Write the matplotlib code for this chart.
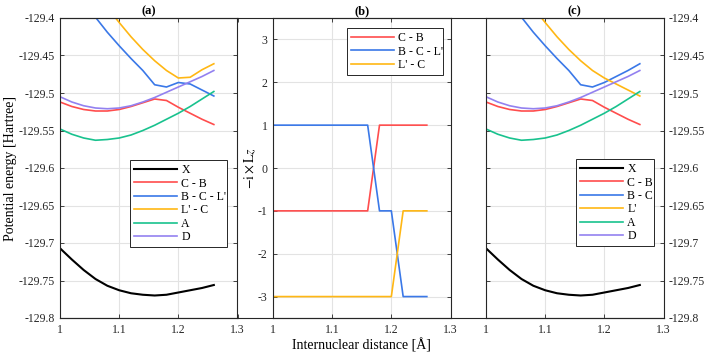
import matplotlib
matplotlib.use("Agg")
import matplotlib.pyplot as plt
from matplotlib.lines import Line2D
import numpy as np

plt.rcParams['font.family'] = ['Liberation Serif', 'DejaVu Serif']
plt.rcParams['mathtext.fontset'] = 'stix'
plt.rcParams['axes.unicode_minus'] = False

# ---------------- data ----------------
r = [1.00, 1.02, 1.04, 1.06, 1.08, 1.10, 1.12, 1.14, 1.16, 1.18, 1.20, 1.22, 1.24, 1.26]

E_X = [-129.707, -129.722, -129.736, -129.748, -129.757, -129.763, -129.767,
       -129.769, -129.770, -129.769, -129.766, -129.763, -129.760, -129.756]
E_CB = [-129.512, -129.518, -129.522, -129.524, -129.524, -129.522, -129.518,
        -129.513, -129.508, -129.510, -129.519, -129.527, -129.535, -129.542]
E_BCL = [-129.330, -129.355, -129.378, -129.399, -129.419, -129.437, -129.454,
         -129.470, -129.489, -129.492, -129.486, -129.488, -129.496, -129.504]
E_LC = [-129.286, -129.314, -129.340, -129.364, -129.386, -129.406, -129.425,
        -129.442, -129.457, -129.470, -129.480, -129.479, -129.469, -129.461]
E_A = [-129.548, -129.555, -129.560, -129.563, -129.562, -129.560, -129.556,
       -129.550, -129.543, -129.535, -129.527, -129.518, -129.508, -129.498]
E_D = [-129.505, -129.512, -129.517, -129.520, -129.521, -129.520, -129.517,
       -129.512, -129.506, -129.499, -129.492, -129.485, -129.478, -129.470]

# panel (c): diabatic-like reordering
E_BC = [-129.330, -129.355, -129.378, -129.399, -129.419, -129.437, -129.454,
        -129.470, -129.489, -129.492, -129.486, -129.478, -129.470, -129.461]
E_L = [-129.286, -129.314, -129.340, -129.364, -129.386, -129.406, -129.425,
       -129.442, -129.457, -129.470, -129.480, -129.488, -129.496, -129.504]

Lz_CB = [-1, -1, -1, -1, -1, -1, -1, -1, -1, 1, 1, 1, 1, 1]
Lz_BCL = [1, 1, 1, 1, 1, 1, 1, 1, 1, -1, -1, -3, -3, -3]
Lz_LC = [-3, -3, -3, -3, -3, -3, -3, -3, -3, -3, -3, -1, -1, -1]

labels_a = ['X', 'C - B', 'B - C - L\'', 'L\' - C', 'A', 'D']
labels_b = ['C - B', 'B - C - L\'', 'L\' - C']
labels_c = ['X', 'C - B', 'B - C', 'L\'', 'A', 'D']

x_ticks = [1, 1.1, 1.2, 1.3]
x_ticklabels = ['1', '1.1', '1.2', '1.3']
e_ticks = [-129.8, -129.75, -129.7, -129.65, -129.6, -129.55, -129.5, -129.45, -129.4]
e_ticklabels = ['-129.8', '-129.75', '-129.7', '-129.65', '-129.6', '-129.55',
                '-129.5', '-129.45', '-129.4']
lz_ticks = [-3, -2, -1, 0, 1, 2, 3]
lz_ticklabels = ['-3', '-2', '-1', '0', '1', '2', '3']

# ---------------- style ----------------
C_X = '#000000'
C_R = '#FF4D4D'
C_B = '#3A78E8'
C_Y = '#FFB714'
C_G = '#19C28E'
C_P = '#9381F0'
SP = '#262626'

fig = plt.figure(figsize=(7.09, 3.54), dpi=100)
W, H = 709, 354
def ax_at(x0, x1, y0=18, y1=318):
    return fig.add_axes([x0 / W, 1 - y1 / H, (x1 - x0) / W, (y1 - y0) / H])

axa = ax_at(60, 237.5)
axb = ax_at(273, 450.5)
axc = ax_at(486, 663.5)

def style(ax):
    ax.set_xlim(1, 1.3)
    ax.set_xticks(x_ticks)
    ax.set_xticklabels(x_ticklabels)
    ax.grid(True, color='#E3E3E3', linewidth=0.8)
    ax.set_axisbelow(True)
    for s in ax.spines.values():
        s.set_color(SP)
        s.set_linewidth(0.8)
    ax.tick_params(direction='in', length=3, width=0.6, colors=SP,
                   labelsize=8.5, labelcolor='#262626', top=True, right=True,
                   pad=4)

lw = 1.2
for ax, ys, labs, cols in [
        (axa, [E_X, E_CB, E_BCL, E_LC, E_A, E_D], labels_a, [C_X, C_R, C_B, C_Y, C_G, C_P]),
        (axc, [E_X, E_CB, E_BC, E_L, E_A, E_D], labels_c, [C_X, C_R, C_B, C_Y, C_G, C_P])]:
    for y, lab, c in zip(ys, labs, cols):
        ax.plot(r, y, color=c, lw=1.5 if c == C_X else lw, label=lab)
    style(ax)
    ax.set_ylim(-129.8, -129.4)
    ax.set_yticks(e_ticks)
    ax.set_yticklabels(e_ticklabels)

for y, lab, c in zip([Lz_CB, Lz_BCL, Lz_LC], labels_b, [C_R, C_B, C_Y]):
    axb.plot(r, y, color=c, lw=lw, label=lab)
style(axb)
axb.set_ylim(-3.5, 3.5)
axb.set_yticks(lz_ticks)
axb.set_yticklabels(lz_ticklabels)

axc.tick_params(labelleft=False, labelright=True)

axa.set_ylabel('Potential energy [Hartree]', fontsize=10, labelpad=1)
axb.set_ylabel(r'$-\mathrm{i}\times\mathrm{L}z$', fontsize=10, labelpad=0)
axb.set_xlabel('Internuclear distance [Å]', fontsize=10, labelpad=2)

for ax, t in [(axa, '(a)'), (axb, '(b)'), (axc, '(c)')]:
    ax.set_title(t, fontsize=9, fontweight='bold', pad=3)

def leg(ax, box):
    x0, y0, x1, y1 = box
    bb = ax.get_position()
    fx0 = x0 / W; fy0 = 1 - y1 / H
    fw = (x1 - x0) / W; fh = (y1 - y0) / H
    lg = ax.legend(loc='upper left', bbox_to_anchor=(fx0, fy0, fw, fh),
                   bbox_transform=fig.transFigure, mode='expand',
                   fontsize=8.5, handlelength=3.6, handletextpad=0.4,
                   labelspacing=0.12, borderpad=0.35, borderaxespad=0,
                   fancybox=False, framealpha=1, edgecolor='#262626')
    lg.get_frame().set_linewidth(0.7)
    return lg

leg(axa, (130, 160, 227, 249))
leg(axb, (347, 28, 443, 74))
leg(axc, (576, 159, 654, 248))

# continuous frame lines at top and bottom spanning all panels
for yy in (18, 318):
    fig.add_artist(Line2D([60 / W, 663.5 / W], [1 - yy / H, 1 - yy / H],
                          transform=fig.transFigure, color=SP, lw=0.8))

fig.savefig('out.png', dpi=100)
